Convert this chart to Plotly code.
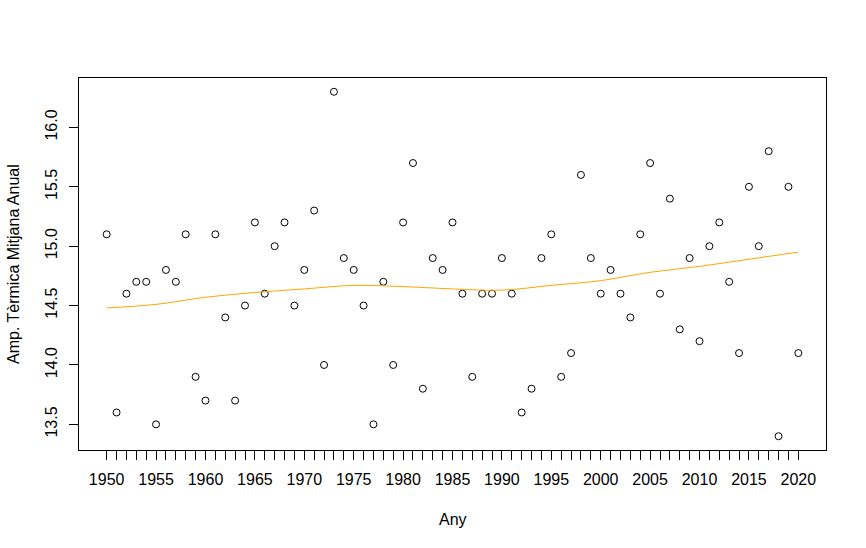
import plotly.graph_objects as go

# Amplitud tèrmica mitjana anual per any
anys = list(range(1950, 2021))
amplitud = [
    15.1, 13.6, 14.6, 14.7, 14.7, 13.5, 14.8, 14.7, 15.1, 13.9,
    13.7, 15.1, 14.4, 13.7, 14.5, 15.2, 14.6, 15.0, 15.2, 14.5,
    14.8, 15.3, 14.0, 16.3, 14.9, 14.8, 14.5, 13.5, 14.7, 14.0,
    15.2, 15.7, 13.8, 14.9, 14.8, 15.2, 14.6, 13.9, 14.6, 14.6,
    14.9, 14.6, 13.6, 13.8, 14.9, 15.1, 13.9, 14.1, 15.6, 14.9,
    14.6, 14.8, 14.6, 14.4, 15.1, 15.7, 14.6, 15.4, 14.3, 14.9,
    14.2, 15.0, 15.2, 14.7, 14.1, 15.5, 15.0, 15.8, 13.4, 15.5,
    14.1,
]

# corba suavitzada (llegida del gràfic, cada 5 anys)
anys_suau = [1950, 1955, 1960, 1965, 1970, 1975, 1980, 1985,
             1990, 1995, 2000, 2005, 2010, 2015, 2020]
suau = [14.48, 14.51, 14.57, 14.61, 14.64, 14.67, 14.66, 14.64,
        14.63, 14.67, 14.71, 14.78, 14.83, 14.89, 14.95]

etiquetes_x = [str(a) if a % 5 == 0 else "" for a in anys]
ticks_y = [13.5, 14.0, 14.5, 15.0, 15.5, 16.0]

fig = go.Figure()
fig.add_trace(go.Scatter(
    x=anys, y=amplitud, mode="markers",
    marker=dict(symbol="circle-open", size=7, color="black", line=dict(width=1)),
    showlegend=False,
))
fig.add_trace(go.Scatter(
    x=anys_suau, y=suau, mode="lines", line_shape="spline",
    line=dict(color="#FFA500", width=1),
    showlegend=False,
))

fnt = dict(family="Liberation Sans, Arial, sans-serif", size=16, color="black")

fig.update_xaxes(
    range=[1947.2, 2022.8], tickvals=anys, ticktext=etiquetes_x,
    ticks="outside", ticklen=9, tickcolor="black", tickwidth=1,
    showline=True, mirror=True, linecolor="black", linewidth=1,
    showgrid=False, zeroline=False, tickfont=fnt, ticklabelstandoff=6,
    automargin=False,
)
fig.update_yaxes(
    range=[13.284, 16.416], tickvals=ticks_y, tickformat=".1f",
    ticks="outside", ticklen=9, tickcolor="black", tickwidth=1, tickangle=-90,
    showline=True, mirror=True, linecolor="black", linewidth=1,
    showgrid=False, zeroline=False, tickfont=fnt, ticklabelstandoff=6,
    automargin=False,
)

fig.update_layout(
    width=866, height=548,
    margin=dict(l=79, r=40, t=78, b=98),
    paper_bgcolor="white", plot_bgcolor="white",
    font=fnt,
    annotations=[
        dict(text="Any", xref="paper", yref="paper", x=0.5, y=0,
             yshift=-69, showarrow=False, font=fnt, yanchor="middle"),
        dict(text="Amp. Tèrmica Mitjana Anual", xref="paper", yref="paper",
             x=0, y=0.5, xshift=-66, textangle=-90, showarrow=False,
             font=fnt, xanchor="center"),
    ],
)

# sense marge al body perquè el títol de l'eix y no quedi tallat
fig.write_html("out.html", config={"displayModeBar": False},
               post_script="document.body.style.margin='0px';")
